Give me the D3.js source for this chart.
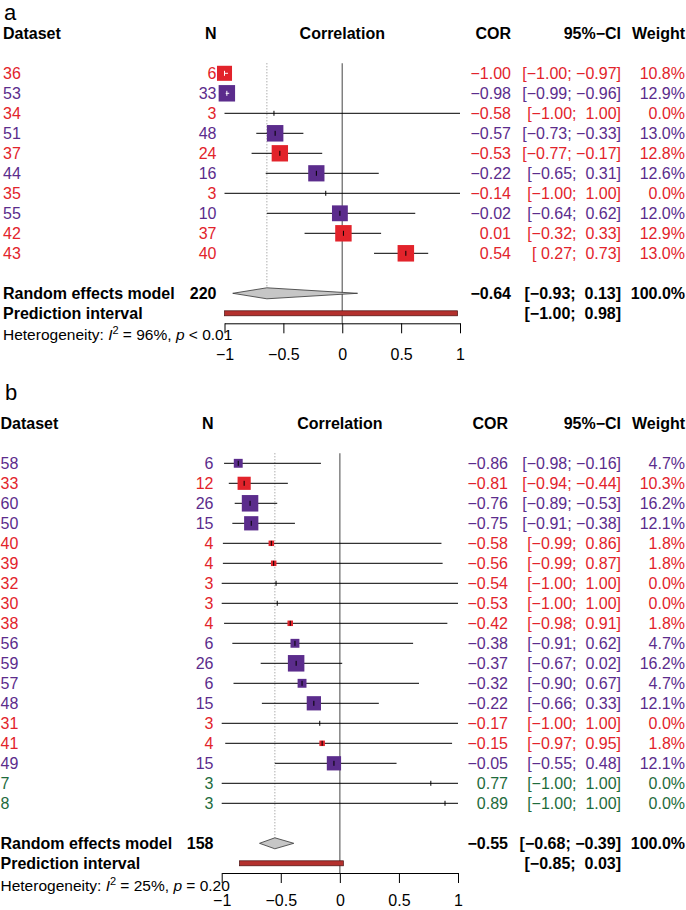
<!DOCTYPE html>
<html>
<head>
<meta charset="utf-8">
<script src="https://cdn.jsdelivr.net/npm/d3@7"></script>
<style>
  body { margin: 0; background: #fff; }
  svg text { font-family: "Liberation Sans", Arial, Helvetica, sans-serif; font-size: 16px; white-space: pre; }
</style>
</head>
<body>
<svg id="chart" width="686" height="910"></svg>
<script>
// ---- panel a data ----
const idsA = ["36", "53", "34", "51", "37", "44", "35", "55", "42", "43"];
const groupsA = ["T1", "T2", "T1", "T2", "T1", "T2", "T1", "T2", "T1", "T1"];
const nA = [6, 33, 3, 48, 24, 16, 3, 10, 37, 40];
const corA = [-1.00, -0.98, -0.58, -0.57, -0.53, -0.22, -0.14, -0.02, 0.01, 0.54];
const loA = [-1.00, -0.99, -1.00, -0.73, -0.77, -0.65, -1.00, -0.64, -0.32, 0.27];
const hiA = [-0.97, -0.96, 1.00, -0.33, -0.17, 0.31, 1.00, 0.62, 0.33, 0.73];
const weightA = [10.8, 12.9, 0.0, 13.0, 12.8, 12.6, 0.0, 12.0, 12.9, 13.0];
const randomA = { n: 220, cor: -0.64, lo: -0.93, hi: 0.13, predLo: -1.00, predHi: 0.98, i2: "96%", p: "< 0.01" };

// ---- panel b data ----
const idsB = ["58", "33", "60", "50", "40", "39", "32", "30", "38", "56", "59", "57", "48", "31", "41", "49", "7", "8"];
const groupsB = ["T2", "T1", "T2", "T2", "T1", "T1", "T1", "T1", "T1", "T2", "T2", "T2", "T2", "T1", "T1", "T2", "T3", "T3"];
const nB = [6, 12, 26, 15, 4, 4, 3, 3, 4, 6, 26, 6, 15, 3, 4, 15, 3, 3];
const corB = [-0.86, -0.81, -0.76, -0.75, -0.58, -0.56, -0.54, -0.53, -0.42, -0.38, -0.37, -0.32, -0.22, -0.17, -0.15, -0.05, 0.77, 0.89];
const loB = [-0.98, -0.94, -0.89, -0.91, -0.99, -0.99, -1.00, -1.00, -0.98, -0.91, -0.67, -0.90, -0.66, -1.00, -0.97, -0.55, -1.00, -1.00];
const hiB = [-0.16, -0.44, -0.53, -0.38, 0.86, 0.87, 1.00, 1.00, 0.91, 0.62, 0.02, 0.67, 0.33, 1.00, 0.95, 0.48, 1.00, 1.00];
const weightB = [4.7, 10.3, 16.2, 12.1, 1.8, 1.8, 0.0, 0.0, 1.8, 4.7, 16.2, 4.7, 12.1, 0.0, 1.8, 12.1, 0.0, 0.0];
const randomB = { n: 158, cor: -0.55, lo: -0.68, hi: -0.39, predLo: -0.85, predHi: 0.03, i2: "25%", p: "= 0.20" };

const axisTicks = [-1, -0.5, 0, 0.5, 1];
const headers = ["Dataset", "N", "Correlation", "COR", "95%\u2212CI", "Weight"];

const color = d3.scaleOrdinal().domain(["T1", "T2", "T3"]).range(["#e2232b", "#5b2c8c", "#1e6b3c"]);

const svg = d3.select("#chart");

// R-style number formatting: unicode minus, space in place of the sign for positives
const num = v => (v < 0 ? "\u2212" : "") + Math.abs(v).toFixed(2);
const pad = v => (v < 0 ? "\u2212" : " ") + Math.abs(v).toFixed(2);
const ci = (lo, hi) => `[${pad(lo)}; ${pad(hi)}]`;
const tickFmt = d => (d < 0 ? "\u2212" : "") + Math.abs(d);

function drawPanel(cfg) {
  const { label, ids, groups, n, cor, lo, hi, weight, random, L } = cfg;
  const rows = ids.map((id, i) => ({ id, group: groups[i], n: n[i], cor: cor[i], lo: lo[i], hi: hi[i], w: weight[i] }));
  const g = svg.append("g");

  const x = d3.scaleLinear().domain([-1, 1]).range(L.xRange);
  const y = d3.scaleLinear().domain([0, 1]).range([L.rowY0, L.rowY0 + 20]);
  const size = d3.scaleSqrt().domain([0, d3.max(weight)]).range([0, 16.5]);
  const yRandom = y(rows.length + 1);
  const yPred = y(rows.length + 2);

  // panel letter
  g.append("text").attr("x", L.labelX).attr("y", L.labelY)
    .style("font-size", "22px").text(label);

  // headers
  const hy = y(-2);
  const hdr = [
    { t: headers[0], x: L.textX, a: "start" },
    { t: headers[1], x: L.nRight, a: "end" },
    { t: headers[2], x: x(0), a: "middle" },
    { t: headers[3], x: L.corRight, a: "end" },
    { t: headers[4], x: L.ciRight, a: "end" },
    { t: headers[5], x: L.wRight, a: "end" }
  ];
  g.selectAll(".hdr").data(hdr).join("text")
    .attr("x", d => d.x).attr("y", hy).attr("dy", "0.36em")
    .attr("text-anchor", d => d.a).style("font-weight", "bold").text(d => d.t);

  // reference lines
  g.append("line").attr("x1", x(0)).attr("x2", x(0))
    .attr("y1", y(0) - 10).attr("y2", L.axisY)
    .attr("stroke", "#7a7a7a").attr("stroke-width", 1.4);
  g.append("line").attr("x1", x(random.cor)).attr("x2", x(random.cor))
    .attr("y1", y(0) - 10).attr("y2", yRandom - 5.5)
    .attr("stroke", "#888").attr("stroke-width", 1).attr("stroke-dasharray", "1,2");

  // study rows
  const row = g.selectAll(".row").data(rows).join("g").attr("class", "row");

  row.append("line")
    .attr("x1", d => x(d.lo)).attr("x2", d => x(d.hi))
    .attr("y1", (d, i) => y(i)).attr("y2", (d, i) => y(i))
    .attr("stroke", "#000").attr("stroke-width", 1);

  row.append("rect")
    .attr("x", d => x(d.cor) - size(d.w) / 2)
    .attr("y", (d, i) => y(i) - size(d.w) / 2)
    .attr("width", d => size(d.w)).attr("height", d => size(d.w))
    .attr("fill", d => color(d.group));

  // inner CI drawn white when it sits inside the box
  const inside = d => x(d.hi) - x(d.lo) < size(d.w);
  row.filter(inside).append("line")
    .attr("x1", d => x(d.lo)).attr("x2", d => x(d.hi))
    .attr("y1", d => y(rows.indexOf(d))).attr("y2", d => y(rows.indexOf(d)))
    .attr("stroke", "#fff").attr("stroke-width", 1);

  row.append("line")
    .attr("x1", d => x(d.cor)).attr("x2", d => x(d.cor))
    .attr("y1", (d, i) => y(i) - 2.5).attr("y2", (d, i) => y(i) + 2.5)
    .attr("stroke", d => inside(d) ? "#fff" : "#000").attr("stroke-width", 1);

  const cols = [
    { f: d => d.id, x: L.textX, a: "start" },
    { f: d => String(d.n), x: L.nRight, a: "end" },
    { f: d => num(d.cor), x: L.corRight, a: "end" },
    { f: d => ci(d.lo, d.hi), x: L.ciRight, a: "end" },
    { f: d => d.w.toFixed(1) + "%", x: L.wRight, a: "end" }
  ];
  cols.forEach(c => {
    row.append("text")
      .attr("x", c.x).attr("y", (d, i) => y(i)).attr("dy", "0.36em")
      .attr("text-anchor", c.a).attr("fill", d => color(d.group)).text(c.f);
  });

  // random effects model
  const diamond = d3.line()([
    [x(random.lo), yRandom], [x(random.cor), yRandom - 5.5],
    [x(random.hi), yRandom], [x(random.cor), yRandom + 5.5]
  ]) + "Z";
  g.append("path").attr("d", diamond)
    .attr("fill", "#c6c6c6").attr("stroke", "#333").attr("stroke-width", 0.8);

  g.append("rect")
    .attr("x", x(random.predLo)).attr("y", yPred - 2.5)
    .attr("width", x(random.predHi) - x(random.predLo)).attr("height", 5)
    .attr("fill", "#b3302d").attr("stroke", "#4a1212").attr("stroke-width", 0.7);

  const bold = [
    { t: "Random effects model", x: L.textX, y: yRandom, a: "start" },
    { t: String(random.n), x: L.nRight, y: yRandom, a: "end" },
    { t: num(random.cor), x: L.corRight, y: yRandom, a: "end" },
    { t: ci(random.lo, random.hi), x: L.ciRight, y: yRandom, a: "end" },
    { t: "100.0%", x: L.wRight, y: yRandom, a: "end" },
    { t: "Prediction interval", x: L.textX, y: yPred, a: "start" },
    { t: ci(random.predLo, random.predHi), x: L.ciRight, y: yPred, a: "end" }
  ];
  g.selectAll(".bold").data(bold).join("text")
    .attr("x", d => d.x).attr("y", d => d.y).attr("dy", "0.36em")
    .attr("text-anchor", d => d.a).style("font-weight", "bold").text(d => d.t);

  // heterogeneity line
  const het = g.append("text").attr("x", L.textX).attr("y", L.hetY).attr("dy", "0.36em")
    .style("font-size", "15.5px");
  het.append("tspan").text("Heterogeneity: ");
  het.append("tspan").style("font-style", "italic").text("I");
  het.append("tspan").attr("dy", -6).style("font-size", "11px").text("2");
  het.append("tspan").attr("dy", 6).text(` = ${random.i2}, `);
  het.append("tspan").style("font-style", "italic").text("p");
  het.append("tspan").text(` ${random.p}`);

  // x axis
  const axis = g.append("g").attr("transform", `translate(0,${L.axisY})`)
    .call(d3.axisBottom(x).tickValues(axisTicks).tickFormat(tickFmt)
      .tickSize(10).tickSizeOuter(0).tickPadding(L.tickPad));
  axis.select(".domain").attr("stroke", "#000").attr("stroke-width", 1);
  axis.selectAll(".tick line").attr("stroke", "#000");
  axis.selectAll(".tick text").attr("fill", "#000")
    .style("font-size", "16px").style("font-family", "'Liberation Sans', Arial, sans-serif");
}

drawPanel({
  label: "a", ids: idsA, groups: groupsA, n: nA, cor: corA, lo: loA, hi: hiA, weight: weightA, random: randomA,
  L: { textX: 3, nRight: 216.5, xRange: [224.5, 460], corRight: 511, ciRight: 621, wRight: 685,
       rowY0: 73.3, axisY: 323.3, hetY: 334, labelX: 4, labelY: 20, tickPad: 15 }
});

drawPanel({
  label: "b", ids: idsB, groups: groupsB, n: nB, cor: corB, lo: loB, hi: hiB, weight: weightB, random: randomB,
  L: { textX: 0.5, nRight: 213.5, xRange: [221.7, 458], corRight: 508, ciRight: 621, wRight: 685,
       rowY0: 463.3, axisY: 873, hetY: 885, labelX: 5, labelY: 400, tickPad: 12 }
});
</script>
</body>
</html>
